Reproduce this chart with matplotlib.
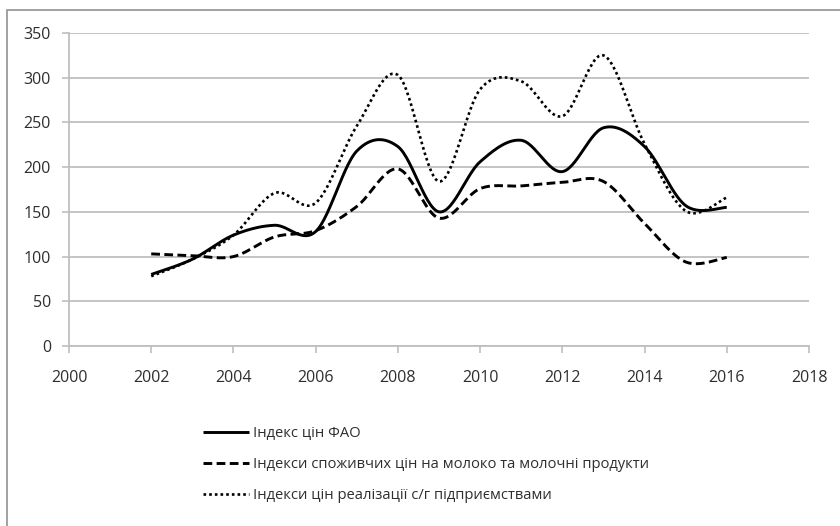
import numpy as np
import matplotlib
matplotlib.use("Agg")
import matplotlib.pyplot as plt
from matplotlib.patches import Rectangle

plt.rcParams['font.family'] = ['Open Sans', 'DejaVu Sans']

# ---------------------------------------------------------------------------
# Data
# ---------------------------------------------------------------------------
years = [2002, 2003, 2004, 2005, 2006, 2007, 2008, 2009,
         2010, 2011, 2012, 2013, 2014, 2015, 2016]

fao_index = [80, 97, 124, 135, 128, 218, 223, 150,
             206, 230, 195, 244, 223, 157, 155]
milk_cpi = [103, 101, 100, 122, 129, 156, 198, 143,
            176, 179, 183, 184, 137, 94, 99]
farm_prices = [78, 97, 124, 171, 160, 246, 303, 184,
               287, 296, 257, 325, 226, 151, 166]

labels = ["Індекс цін ФАО",
          "Індекси споживчих цін на молоко та молочні продукти",
          "Індекси цін реалізації с/г підприємствами"]

x_ticks = list(range(2000, 2019, 2))
y_ticks = list(range(0, 351, 50))


def smooth(xs, ys, n=30):
    # Excel-style smoothed line: Bezier segments with Catmull-Rom control points
    x = np.asarray(xs, float)
    y = np.asarray(ys, float)
    px = np.concatenate([[x[0]], x, [x[-1]]])
    py = np.concatenate([[y[0]], y, [y[-1]]])
    t = np.linspace(0, 1, n)
    out_x, out_y = [], []
    for i in range(len(x) - 1):
        p0 = np.array([px[i + 1], py[i + 1]])
        p3 = np.array([px[i + 2], py[i + 2]])
        c1 = p0 + (p3 - np.array([px[i], py[i]])) / 6
        c2 = p3 - (np.array([px[i + 3], py[i + 3]]) - p0) / 6
        pts = ((1 - t)[:, None] ** 3 * p0 + 3 * ((1 - t) ** 2 * t)[:, None] * c1
               + 3 * ((1 - t) * t ** 2)[:, None] * c2 + (t ** 3)[:, None] * p3)
        out_x.extend(pts[:, 0])
        out_y.extend(pts[:, 1])
    return out_x, out_y


fig = plt.figure(figsize=(8.4, 5.26), dpi=100)
ax = fig.add_axes([69 / 840, 1 - 346 / 526, 740 / 840, 313 / 526])

grey = '#bfbfbf'
txt = '#2e2e2e'

l1, = ax.plot(*smooth(years, fao_index), color='black', lw=2.1,
              solid_capstyle='butt', label=labels[0], zorder=4)
l2, = ax.plot(*smooth(years, milk_cpi), color='black', lw=2.1,
              linestyle=(0, (3.0, 1.5)), label=labels[1], zorder=3)
l3, = ax.plot(*smooth(years, farm_prices), color='black', lw=1.9,
              linestyle=(0, (1, 1.15)), label=labels[2], zorder=3)

ax.set_xlim(2000, 2018)
ax.set_ylim(0, 350)
ax.set_xticks(x_ticks)
ax.set_yticks(y_ticks)
ax.yaxis.grid(True, color=grey, lw=1.3)
ax.set_axisbelow(True)
for s in ['top', 'right']:
    ax.spines[s].set_visible(False)
for s in ['left', 'bottom']:
    ax.spines[s].set_color(grey)
    ax.spines[s].set_linewidth(1.3)
ax.tick_params(axis='both', colors=grey, length=5, width=1.2,
               labelcolor=txt, labelsize=11.5)
ax.tick_params(axis='x', pad=12)
ax.tick_params(axis='y', pad=8)

# legend below the plot, no frame
fig.legend(handles=[l1, l2, l3], loc='upper left', frameon=False,
           bbox_to_anchor=(190 / 840, 1 - 413 / 526), fontsize=10.6,
           handlelength=3.1, handletextpad=0.3, labelspacing=1.08,
           labelcolor=txt)

# outer chart frame (only left and top visible in the crop)
fig.patches.append(Rectangle((7 / 840, -0.05), 1.0, 1 - 10 / 526 + 0.05,
                             transform=fig.transFigure, fill=False,
                             edgecolor='#9a9a9a', lw=1.3))

fig.savefig("out.png", dpi=100)
